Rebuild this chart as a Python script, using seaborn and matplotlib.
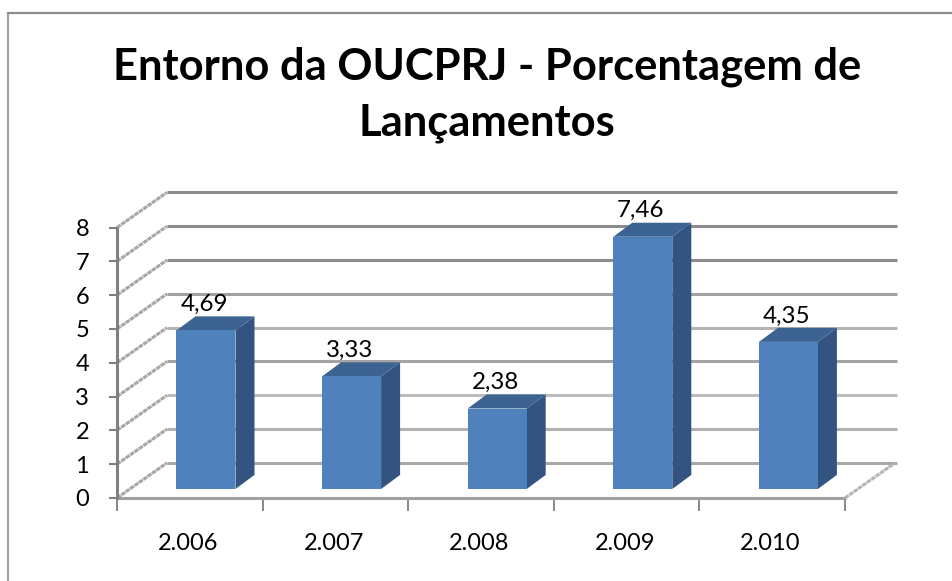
import matplotlib
matplotlib.use("Agg")
import matplotlib.pyplot as plt
import pandas as pd
import seaborn as sns
from matplotlib.lines import Line2D
from matplotlib.patches import Polygon

years = ["2.006", "2.007", "2.008", "2.009", "2.010"]
values = [4.69, 3.33, 2.38, 7.46, 4.35]
value_labels = ["4,69", "3,33", "2,38", "7,46", "4,35"]
y_ticks = [0, 1, 2, 3, 4, 5, 6, 7, 8]
title = "Entorno da OUCPRJ - Porcentagem de\nLançamentos"

W, H = 953, 581
# pixel geometry of the fake 3D box
left, right, top, bottom = 117, 897, 185, 498
bar0_px, step_px = 206, 145.6
base_px, unit_px = 488, 33.7
wall_dx, wall_dy = 50 / step_px, 35 / unit_px
bar_dx, bar_dy = 19 / step_px, 14 / unit_px
front_zero = -9 / unit_px
label_shift = -18 / step_px
floor_start = (left - bar0_px) / step_px
floor_end = (845 - bar0_px) / step_px

grid_colors = ["#a9a9a9", "#b0b0b0", "#bcbcbc", "#a4a4a4", "#b4b4b4",
               "#a0a0a0", "#8c8c8c", "#8c8c8c", "#8c8c8c"]

sns.set_style("white")
plt.rcParams["font.family"] = ["Lato", "DejaVu Sans"]

fig = plt.figure(figsize=(W / 100, H / 100), dpi=100)
# outer chart frame, open at the right and bottom
fig.add_artist(Line2D([8 / W, 8 / W], [0, 1 - 13 / H], color="#a6a6a6", lw=1.6))
fig.add_artist(Line2D([8 / W, 1], [1 - 13 / H, 1 - 13 / H], color="#8c8c8c", lw=1.6))

ax = fig.add_axes([left / W, 1 - bottom / H, (right - left) / W, (bottom - top) / H])
ax.patch.set_alpha(0)

df = pd.DataFrame({"year": years, "value": values})
sns.barplot(data=df, x="year", y="value", color="#4f81bd", saturation=1,
            width=59 / step_px, linewidth=0, ax=ax, zorder=5)

ax.set_xlim(floor_start, (right - bar0_px) / step_px)
ax.set_ylim(front_zero, (base_px - top) / unit_px)

# back wall grid and left wall diagonals
for v, c in zip(y_ticks, grid_colors):
    y = v + front_zero
    ax.plot([floor_start + wall_dx, (right - bar0_px) / step_px],
            [y + wall_dy, y + wall_dy], color=c, lw=2.2, zorder=1,
            solid_capstyle="butt", clip_on=False)
    ax.plot([floor_start, floor_start + wall_dx], [y, y + wall_dy],
            color="#a6a6a6", lw=2.2, ls=(0, (1.5, 0.25)), zorder=1, clip_on=False)

# floor
ax.plot([floor_start, floor_end], [front_zero, front_zero], color="#a0a0a0",
        lw=2.2, zorder=2, clip_on=False)
ax.plot([floor_end, floor_end + wall_dx], [front_zero, front_zero + wall_dy],
        color="#b4b4b4", lw=2.2, ls=(0, (1.5, 0.25)), zorder=2, clip_on=False)

# side and top faces from the bars seaborn drew
for bar, label in zip(ax.patches, value_labels):
    x0, x1 = bar.get_x(), bar.get_x() + bar.get_width()
    h = bar.get_height()
    ax.add_patch(Polygon([(x1, 0), (x1 + bar_dx, bar_dy), (x1 + bar_dx, h + bar_dy), (x1, h)],
                         facecolor="#335480", edgecolor="none", zorder=4))
    ax.add_patch(Polygon([(x0, h), (x1, h), (x1 + bar_dx, h + bar_dy), (x0 + bar_dx, h + bar_dy)],
                         facecolor="#3c6391", edgecolor="none", zorder=4))
    ax.text((x0 + x1) / 2 - 2 / step_px, h + bar_dy + 5.5 / unit_px, label, ha="center",
            va="baseline", fontsize=17.4, color="black", zorder=6)

sns.despine(ax=ax, top=True, right=True, bottom=True, left=True)
ax.plot([floor_start, floor_start], [front_zero, 8 + front_zero], color="#808080",
        lw=2.2, zorder=3, clip_on=False)

ax.set_xlabel("")
ax.set_ylabel("")
ax.set_yticks([v + front_zero for v in y_ticks], [str(v) for v in y_ticks], fontsize=17)
ax.set_xticks([i + label_shift for i in range(len(years))], years, fontsize=17)
ax.set_xticks([floor_start + i for i in range(len(years) + 1)], minor=True)
ax.tick_params(axis="x", which="major", length=0, pad=25, colors="black")
ax.tick_params(axis="x", which="minor", length=9, width=1.3, color="#808080", bottom=True)
ax.tick_params(axis="y", which="major", length=6, width=1.5, color="#808080", left=True,
               pad=14, labelcolor="black")

fig.text(487 / W, 1 - 95 / H, title, ha="center", va="center", fontsize=31.3,
         fontweight="bold", color="black", linespacing=1.48)

fig.savefig("out.png", dpi=100)
